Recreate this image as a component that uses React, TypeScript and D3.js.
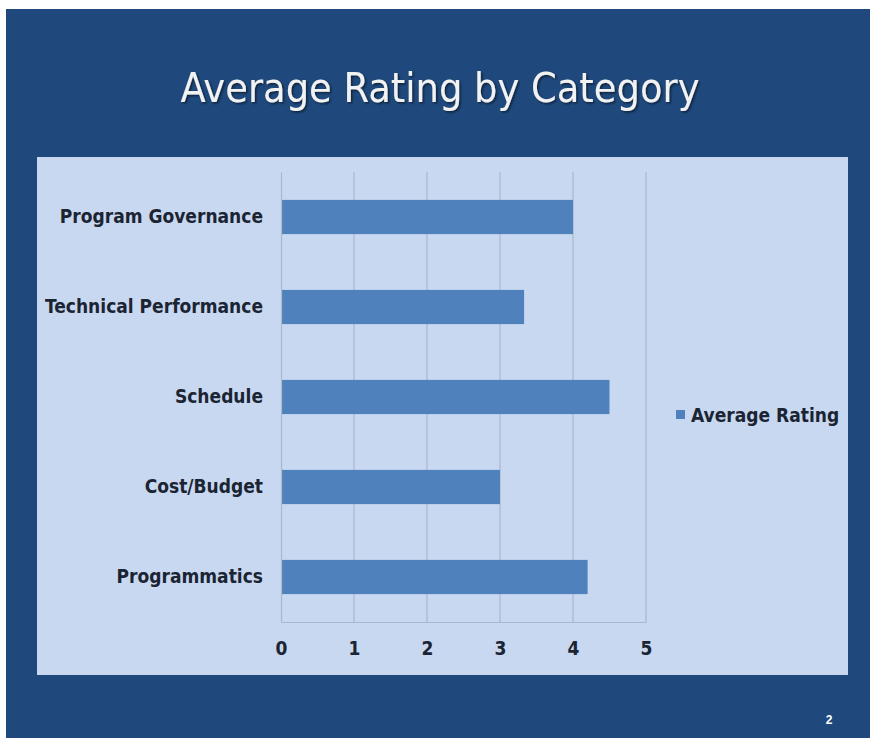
import { useEffect, useRef } from 'react';
import * as d3 from 'd3';

const categories = [
  "Program Governance",
  "Technical Performance",
  "Schedule",
  "Cost/Budget",
  "Programmatics",
];
const ratings = [4.0, 3.33, 4.5, 3.0, 4.2];
const xTicks = [0, 1, 2, 3, 4, 5];
const seriesName = "Average Rating";
const chartTitle = "Average Rating by Category";
const slideNumber = "2";

const FONT = "'DejaVu Sans Condensed', 'Liberation Sans Narrow', sans-serif";

export default function App() {
  const svgRef = useRef<SVGSVGElement | null>(null);

  useEffect(() => {
    if (!svgRef.current) return;
    const svg = d3.select(svgRef.current);
    svg.selectAll("*").remove();

    const W = 876, H = 742;

    const defs = svg.append("defs");
    defs.append("filter").attr("id", "titleShadow")
      .attr("x", "-10%").attr("y", "-30%").attr("width", "120%").attr("height", "160%")
      .append("feDropShadow")
      .attr("dx", 1.5).attr("dy", 1.5).attr("stdDeviation", 1)
      .attr("flood-color", "#000000").attr("flood-opacity", 0.55);

    // slide background
    svg.append("rect").attr("width", W).attr("height", H).attr("fill", "#ffffff");
    svg.append("rect").attr("x", 6).attr("y", 9).attr("width", 864).attr("height", 729).attr("fill", "#1f497d");

    // title
    svg.append("text")
      .attr("x", 440).attr("y", 102)
      .attr("text-anchor", "middle")
      .attr("font-family", FONT)
      .attr("font-size", 41)
      .attr("fill", "#f2f2f2")
      .attr("filter", "url(#titleShadow)")
      .text(chartTitle);

    // chart panel
    svg.append("rect").attr("x", 37).attr("y", 157).attr("width", 811).attr("height", 518).attr("fill", "#c8d8f0");

    const x = d3.scaleLinear().domain([0, 5]).range([281, 646]);
    const y = d3.scaleBand().domain(categories).range([172, 622]).paddingInner(0.62).paddingOuter(0.31);

    // gridlines
    svg.append("g").selectAll("line").data(xTicks.slice(1))
      .join("line")
      .attr("x1", d => x(d)).attr("x2", d => x(d))
      .attr("y1", 172).attr("y2", 622)
      .attr("stroke", "#a9b8cc").attr("stroke-width", 1.2);

    // bars
    svg.append("g").selectAll("rect").data(ratings)
      .join("rect")
      .attr("x", x(0))
      .attr("y", (_, i) => y(categories[i])!)
      .attr("width", d => x(d) - x(0))
      .attr("height", y.bandwidth())
      .attr("fill", "#4f81bd");

    // category axis
    const yAxis = svg.append("g").attr("transform", `translate(${x(0)},0)`)
      .call(d3.axisLeft(y).tickSize(0).tickPadding(18));
    yAxis.select(".domain").attr("stroke", "#a9b8cc").attr("stroke-width", 1.2);
    yAxis.selectAll("text")
      .attr("font-family", FONT)
      .attr("font-size", 19)
      .attr("font-weight", "bold")
      .attr("fill", "#1b2433");

    // value axis labels
    const xAxis = svg.append("g").attr("transform", "translate(0,622)")
      .call(d3.axisBottom(x).tickValues(xTicks).tickFormat(d3.format("d")).tickSize(0).tickPadding(20));
    xAxis.select(".domain").attr("stroke", "#a9b8cc").attr("stroke-width", 1);
    xAxis.selectAll("text")
      .attr("font-family", FONT)
      .attr("font-size", 19)
      .attr("font-weight", "bold")
      .attr("fill", "#1b2433");

    // legend
    svg.append("rect").attr("x", 676).attr("y", 410).attr("width", 9).attr("height", 9).attr("fill", "#4f81bd");
    svg.append("text")
      .attr("x", 691).attr("y", 422)
      .attr("font-family", FONT)
      .attr("font-size", 19)
      .attr("font-weight", "bold")
      .attr("fill", "#1b2433")
      .text(seriesName);

    // slide number
    svg.append("text")
      .attr("x", 829).attr("y", 724)
      .attr("text-anchor", "middle")
      .attr("font-family", "'Liberation Sans', sans-serif")
      .attr("font-size", 12)
      .attr("font-weight", "bold")
      .attr("fill", "#ffffff")
      .text(slideNumber);
  }, []);

  return (
    <div style={{ position: "absolute", left: 0, top: 0 }}>
      <svg ref={svgRef} width={876} height={742} style={{ display: "block" }} />
    </div>
  );
}
